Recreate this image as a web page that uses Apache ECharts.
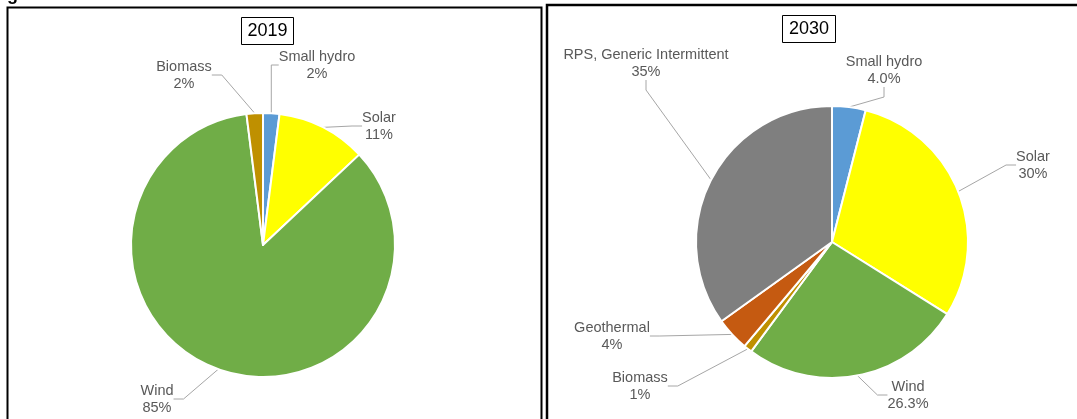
<!DOCTYPE html>
<html>
<head>
<meta charset="utf-8">
<script src="https://cdn.jsdelivr.net/npm/echarts@6/dist/echarts.min.js"></script>
<style>
  html, body { margin: 0; padding: 0; background: #fff; }
  #chart { width: 1077px; height: 419px; }
</style>
</head>
<body>
<div id="chart"></div>
<script>
// 2019 mix
const names2019 = ['Small hydro', 'Solar', 'Wind', 'Biomass'];
const values2019 = [2, 11, 85, 2];
const pctLabels2019 = ['2%', '11%', '85%', '2%'];

// 2030 mix
const names2030 = ['Small hydro', 'Solar', 'Wind', 'Biomass', 'Geothermal', 'RPS, Generic Intermittent'];
const values2030 = [4.0, 30, 26.3, 1, 4, 35];
const pctLabels2030 = ['4.0%', '30%', '26.3%', '1%', '4%', '35%'];

const titles = ['2019', '2030'];

const colorMap = {
    'Small hydro': '#5B9BD5',
    'Solar': '#FFFF00',
    'Wind': '#70AD47',
    'Biomass': '#BF9000',
    'Geothermal': '#C55A11',
    'RPS, Generic Intermittent': '#7F7F7F'
};

// where each label block sits (center of text), in px
const labelSpots = [
    [[317, 65], [379, 126], [157, 399], [184, 75]],
    [[884, 70], [1033, 165], [908, 395], [640, 386], [612, 336], [646, 63]]
];

function buildSeries(idx, names, values, pcts, center, radius) {
    return {
        type: 'pie',
        center: center,
        radius: radius,
        startAngle: 90,
        clockwise: true,
        animation: false,
        silent: true,
        itemStyle: { borderColor: '#fff', borderWidth: 2 },
        label: {
            show: true,
            position: 'outside',
            formatter: p => p.name + '\n' + pcts[p.dataIndex],
            fontFamily: 'Liberation Sans, Arial',
            fontSize: 14.5,
            lineHeight: 17,
            color: '#595959',
            align: 'center'
        },
        labelLine: {
            show: true,
            length: 10,
            length2: 10,
            lineStyle: { color: '#A6A6A6', width: 1 }
        },
        labelLayout: function (params) {
            const spot = labelSpots[idx][params.dataIndex];
            return {
                x: spot[0],
                y: spot[1],
                align: 'center',
                verticalAlign: 'middle'
            };
        },
        data: names.map((n, i) => ({
            name: n,
            value: values[i],
            itemStyle: { color: colorMap[n] }
        }))
    };
}

const chart = echarts.init(document.getElementById('chart'));

const option = {
    backgroundColor: '#fff',
    graphic: [
        {
            type: 'rect',
            shape: { x: 7.5, y: 7.5, width: 534, height: 430 },
            style: { fill: null, stroke: '#000', lineWidth: 2 }
        },
        {
            type: 'rect',
            shape: { x: 547, y: 5, width: 560, height: 430 },
            style: { fill: null, stroke: '#000', lineWidth: 2.5 }
        },
        {
            type: 'text',
            left: 7,
            top: -14,
            style: { text: 'g', fontSize: 18, fontWeight: 'bold', fontFamily: 'Liberation Sans, Arial', fill: '#000' }
        },
        {
            type: 'rect',
            shape: { x: 241.5, y: 17.5, width: 52, height: 27 },
            style: { fill: '#fff', stroke: '#000', lineWidth: 1 }
        },
        {
            type: 'text',
            x: 267.5, y: 31,
            style: { text: titles[0], fontSize: 18, fontFamily: 'Liberation Sans, Arial', fill: '#000', align: 'center', verticalAlign: 'middle' }
        },
        {
            type: 'rect',
            shape: { x: 782.5, y: 15.5, width: 53, height: 27 },
            style: { fill: '#fff', stroke: '#000', lineWidth: 1 }
        },
        {
            type: 'text',
            x: 809, y: 29,
            style: { text: titles[1], fontSize: 18, fontFamily: 'Liberation Sans, Arial', fill: '#000', align: 'center', verticalAlign: 'middle' }
        }
    ],
    series: [
        buildSeries(0, names2019, values2019, pctLabels2019, [263, 245], 132),
        buildSeries(1, names2030, values2030, pctLabels2030, [832, 242], 136)
    ]
};

chart.setOption(option);
</script>
</body>
</html>
